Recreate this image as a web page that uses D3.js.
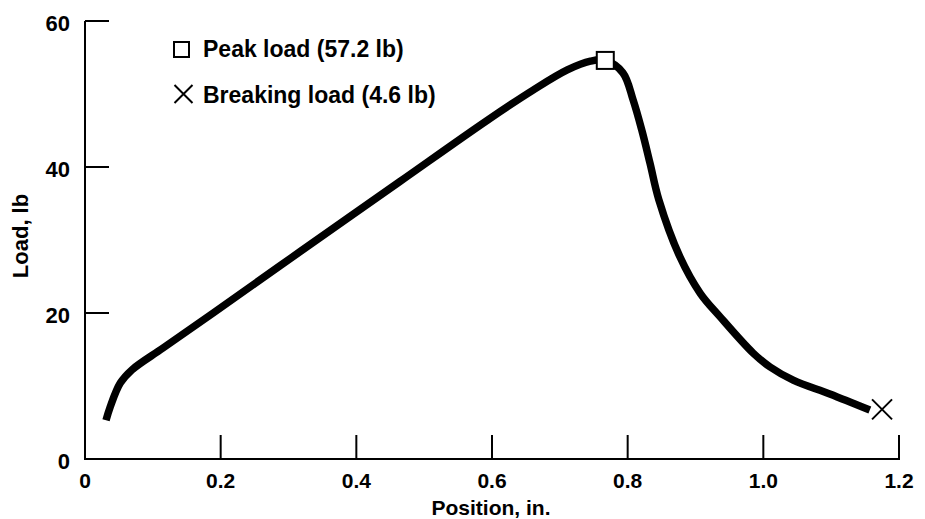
<!DOCTYPE html>
<html>
<head>
<meta charset="utf-8">
<script src="https://cdn.jsdelivr.net/npm/d3@7"></script>
<style>
  body { margin: 0; background: #fff; }
  text { font-family: "Liberation Sans", Arial, Helvetica, sans-serif; font-weight: bold; fill: #000; }
</style>
</head>
<body>
<div id="chart"></div>
<script>
// 曲线数据
const positions = [0.031, 0.037, 0.052, 0.069, 0.115, 0.189, 0.317, 0.464, 0.593, 0.660, 0.711, 0.745, 0.767,
                   0.793, 0.808, 0.821, 0.833, 0.846, 0.877, 0.907, 0.936, 0.985, 1.010, 1.044, 1.098, 1.157];
const loads = [5.3, 7.1, 10.4, 12.2, 15.2, 20.0, 28.4, 38.0, 46.4, 50.5, 53.3, 54.5, 54.6,
               52.9, 49.2, 45.0, 40.5, 35.5, 27.7, 22.7, 19.5, 14.5, 12.6, 10.8, 8.9, 6.7];

// 标记点
const peakPoint = [0.767, 54.6];
const breakPoint = [1.175, 6.8];

// 刻度
const xTicks = [0, 0.2, 0.4, 0.6, 0.8, 1.0, 1.2];
const yTicks = [0, 20, 40, 60];

// 图例文字
const legendLabels = ['Peak load (57.2 lb)', 'Breaking load (4.6 lb)'];
const xTitle = 'Position, in.';
const yTitle = 'Load, lb';

const width = 925, height = 519;

const svg = d3.select('#chart').append('svg')
  .attr('width', width)
  .attr('height', height);

const x = d3.scaleLinear().domain([0, 1.2]).range([85, 899]);
const y = d3.scaleLinear().domain([0, 60]).range([459, 21]);

const tickLen = 24;

// 坐标轴
const axes = svg.append('g').attr('stroke', '#000').attr('stroke-width', 2);
axes.append('line')
  .attr('x1', x(0)).attr('x2', x(0))
  .attr('y1', y(0) + 1).attr('y2', y(60));
axes.append('line')
  .attr('x1', x(0)).attr('x2', x(1.2) + 1)
  .attr('y1', y(0)).attr('y2', y(0));

// y 刻度线（向内）
axes.selectAll('.ytick')
  .data(yTicks.filter(d => d > 0))
  .enter().append('line')
  .attr('x1', x(0)).attr('x2', x(0) + tickLen)
  .attr('y1', d => y(d)).attr('y2', d => y(d));

// x 刻度线（向上）
axes.selectAll('.xtick')
  .data(xTicks.filter(d => d > 0))
  .enter().append('line')
  .attr('x1', d => x(d)).attr('x2', d => x(d))
  .attr('y1', y(0)).attr('y2', y(0) - tickLen);

// 刻度文字
svg.selectAll('.ylabel')
  .data(yTicks)
  .enter().append('text')
  .attr('x', 70)
  .attr('y', d => y(d) + 10)
  .attr('text-anchor', 'end')
  .style('font-size', '22px')
  .text(d => d);

const fmt = d => d === 0 ? '0' : d3.format('.1f')(d);
svg.selectAll('.xlabel')
  .data(xTicks)
  .enter().append('text')
  .attr('x', d => x(d))
  .attr('y', 488)
  .attr('text-anchor', 'middle')
  .style('font-size', '21px')
  .text(fmt);

// 轴标题
svg.append('text')
  .attr('x', 491)
  .attr('y', 515)
  .attr('text-anchor', 'middle')
  .style('font-size', '21px')
  .text(xTitle);

svg.append('text')
  .attr('transform', 'translate(28,236) rotate(-90)')
  .attr('text-anchor', 'middle')
  .style('font-size', '22px')
  .text(yTitle);

// 曲线
const line = d3.line()
  .x(d => x(d[0]))
  .y(d => y(d[1]))
  .curve(d3.curveCatmullRom.alpha(0.5));

svg.append('path')
  .datum(d3.zip(positions, loads))
  .attr('d', line)
  .attr('fill', 'none')
  .attr('stroke', '#000')
  .attr('stroke-width', 7.5)
  .attr('stroke-linejoin', 'round');

// 峰值方块
const sq = 17;
svg.append('rect')
  .attr('x', x(peakPoint[0]) - sq / 2)
  .attr('y', y(peakPoint[1]) - sq / 2)
  .attr('width', sq).attr('height', sq)
  .attr('fill', '#fff')
  .attr('stroke', '#000')
  .attr('stroke-width', 2);

// 断裂点 X
function drawCross(cx, cy, r) {
  svg.append('path')
    .attr('d', `M${cx - r},${cy - r}L${cx + r},${cy + r}M${cx - r},${cy + r}L${cx + r},${cy - r}`)
    .attr('stroke', '#000')
    .attr('stroke-width', 2)
    .attr('fill', 'none');
}
drawCross(x(breakPoint[0]), y(breakPoint[1]), 10);

// 图例
svg.append('rect')
  .attr('x', 174).attr('y', 42)
  .attr('width', 15).attr('height', 15)
  .attr('fill', '#fff')
  .attr('stroke', '#000')
  .attr('stroke-width', 2);
drawCross(183.5, 94, 9);

svg.selectAll('.legend')
  .data(legendLabels)
  .enter().append('text')
  .attr('x', 203)
  .attr('y', (d, i) => 57 + i * 46)
  .style('font-size', '23px')
  .text(d => d);
</script>
</body>
</html>
